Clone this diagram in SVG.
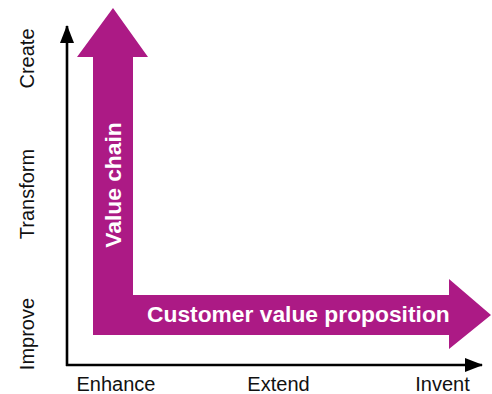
<svg xmlns="http://www.w3.org/2000/svg" width="492" height="394" viewBox="0 0 492 394">
  <style>
    .band { fill: #ac1a85; }
    .band-label { fill: #ffffff; font-family: "Liberation Sans", Arial, sans-serif; font-weight: bold; font-size: 22.8px; }
    .axis { stroke: #000000; stroke-width: 2.6; fill: none; }
    .tick { fill: #111111; font-family: "Liberation Sans", Arial, sans-serif; font-size: 20px; }
  </style>
  <defs>
    <marker id="axis-head" markerUnits="userSpaceOnUse" markerWidth="18" markerHeight="14" refX="17" refY="7" orient="auto">
      <path d="M0,0 L18,7 L0,14 Z" fill="#000000"/>
    </marker>
  </defs>

  <!-- axes -->
  <g id="connectors">
    <path class="axis" d="M67,366 L67,26" marker-end="url(#axis-head)"/>
    <path class="axis" d="M66,365 L482,365" marker-end="url(#axis-head)"/>
  </g>

  <!-- vertical band -->
  <g id="value-chain">
    <polygon class="band" points="93,335 93,57 77,57 113,8 148,57 133,57 133,335"/>
    <text class="band-label" transform="translate(121,185) rotate(-90)" text-anchor="middle">Value chain</text>
  </g>

  <!-- horizontal band -->
  <g id="customer-value-proposition">
    <polygon class="band" points="93,295 449,295 449,279 491,315 449,349 449,335 93,335"/>
    <text class="band-label" x="147" y="322">Customer value proposition</text>
  </g>

  <!-- vertical axis levels -->
  <g id="y-labels">
    <text class="tick" transform="translate(34,58.5) rotate(-90)" text-anchor="middle">Create</text>
    <text class="tick" transform="translate(34,194) rotate(-90)" text-anchor="middle">Transform</text>
    <text class="tick" transform="translate(34,334) rotate(-90)" text-anchor="middle">Improve</text>
  </g>

  <!-- horizontal axis levels -->
  <g id="x-labels">
    <text class="tick" x="116" y="391" text-anchor="middle">Enhance</text>
    <text class="tick" x="278.5" y="391" text-anchor="middle">Extend</text>
    <text class="tick" x="442.5" y="391" text-anchor="middle">Invent</text>
  </g>
</svg>
